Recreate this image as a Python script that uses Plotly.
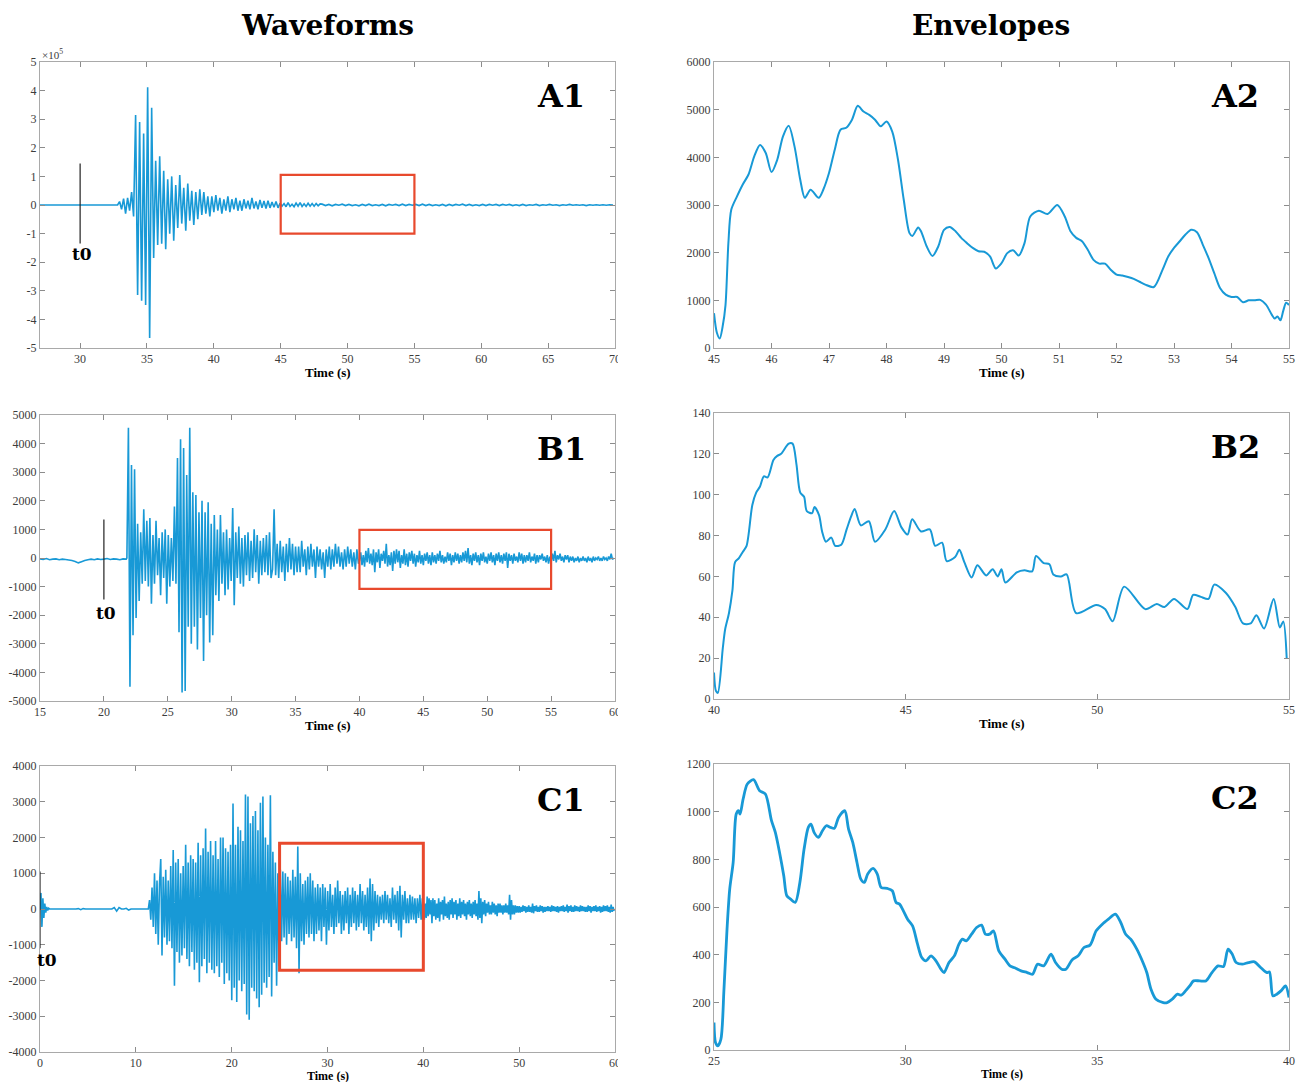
import numpy as np
import plotly.graph_objects as go

# ---------------------------------------------------------------------------
# Waveforms: each record is (start time, sample step, samples)
# ---------------------------------------------------------------------------
# A1 (amplitude in units of 1e5)
a1_quiet_start, a1_quiet_step = 27.0, 0.5
a1_quiet = [0, 0, 0, 0, 0, 0, 0, 0, 0, 0, 0, 0]
a1_main_start, a1_main_step = 32.8, 0.15
a1_main = [0.00, 0.12, -0.15, 0.22, -0.30, 0.25, -0.20, 0.45, -0.40, 3.15,
           -3.15, 2.90, -3.35, 2.50, -3.50, 4.12, -4.65, 3.40, -1.85, 1.55,
           -1.40, 1.70, -1.35, 1.20, -1.55, 0.90, -1.00, 1.00, -1.25, 0.70,
           -0.80, 1.05, -0.65, 0.60, -0.90, 0.75, -0.55, 0.50, -0.70, 0.45,
           -0.50, 0.55, -0.35, 0.45, -0.30, 0.30, -0.40, 0.30, -0.25, 0.35,
           -0.20, 0.25, -0.30, 0.20, -0.20, 0.30, -0.25, 0.20, -0.15, 0.25,
           -0.20, 0.15, -0.20, 0.20, -0.12, 0.15, -0.15, 0.25, -0.12, 0.12,
           -0.15, 0.18, -0.10, 0.14, -0.12, 0.15, -0.10, 0.10, -0.08, 0.12,
           -0.10, 0.06, -0.04, 0.05, -0.06, 0.08, -0.05, 0.03, -0.06, 0.07,
           -0.04, 0.08, -0.05, 0.04, -0.05, 0.06, -0.04, 0.05, -0.04, 0.05,
           -0.03, 0.04]
a1_tail_start, a1_tail_step = 48.1, 0.25
a1_tail = [0.03, -0.02, 0.02, -0.03, 0.02, -0.01, 0.03, -0.02, 0.02, -0.02,
           0.01, -0.03, 0.02, -0.02, 0.03, -0.02, 0.01, -0.02, 0.02, -0.03,
           0.02, -0.01, 0.02, -0.02, 0.03, -0.02, 0.02, -0.01, 0.02, -0.02,
           0.03, -0.02, 0.02, -0.02, 0.01, -0.02, 0.02, -0.03, 0.02, -0.02,
           0.02, -0.01, 0.03, -0.02, 0.02, -0.02, 0.01, -0.02, 0.02, -0.02,
           0.02, -0.01, 0.02, -0.02, 0.02, -0.01, 0.02, -0.02, 0.01, -0.02,
           0.02, -0.02, 0.01, -0.01, 0.02, -0.02, 0.01, -0.01, 0.02, -0.01,
           0.01, -0.02, 0.01, -0.01, 0.02, -0.01, 0.01, -0.01, 0.01, -0.02,
           0.01, -0.01, 0.01, -0.01, 0.01, -0.01, 0.01, 0.00]

# B1 (counts)
b1_pre_start, b1_pre_step = 15.0, 0.25
b1_pre = [-30, -50, -20, -60, -40, -30, -60, -40, -50, -70,
          -90, -120, -170, -130, -90, -60, -40, -60, -30, -50,
          -40, -20, -50, -30, -40, -60, -30, -40]
b1_main_start, b1_main_step = 21.8, 0.12
b1_main = [0, 4550, -4500, 3250, -2700, 3100, -2100, 1200, -1500, 900,
           -900, 1700, -800, 1300, -1000, 1400, -1600, 800, -900, 1300,
           -600, 700, -1300, 900, -700, 1000, -1600, 800, -1000, 700,
           -800, 1800, -900, 3500, -2600, 4150, -4700, 3850, -4650, 2900,
           -2400, 4550, -3000, 2300, -2400, 2200, -3200, 1600, -2100, 2000,
           -3600, 1600, -2000, 1950, -2950, 1200, -2700, 1500, -1300, 1000,
           -1500, 1500, -900, 900, -1300, 1000, -1100, 700, -800, 1750,
           -1650, 900, -700, 1100, -900, 700, -1000, 800, -600, 900,
           -800, 600, -700, 1000, -500, 800, -900, 600, -600, 700,
           -500, 800, -600, 900, -700, -400, 1700, -600, 500, -700,
           600, -500, 400, -800, 500, -500, 700, -400, 500, -600,
           400, -500, 400, -500, 600, -300, 300, -600, 400, -400,
           500, -300, 300, -700, 400, -300, 300, -400, 200, -700,
           300, -300, 400, -400, 300, -300, 500, -200, 400, -300,
           200, -400, 300, -300, 400, -200, 300, -300, 200, -400,
           300, -200]
b1_tail_start, b1_tail_step = 40.0, 0.1
b1_tail = [-100, 200, -250, 100, -300, 250, -150, 350, -200, 150,
           -250, 300, -500, 200, -150, 300, -350, 150, -100, 250,
           -200, 500, -300, 100, -250, 200, -450, 250, -200, 300,
           -150, 250, -350, 100, -200, 300, -250, 150, -300, 200,
           -100, 250, -200, 150, -300, 100, -150, 250, -200, 100,
           -250, 150, -100, 200, -200, 100, -250, 200, -150, 100,
           -200, 150, -100, 250, -150, 100, -200, 50, -150, 200,
           -100, 150, -250, 100, -150, 200, -100, 150, -200, 100,
           -150, 200, -100, 250, -150, 350, -200, 100, -250, 150,
           -100, 200, -150, 100, -250, 150, -100, 200, -150, 50,
           -200, 150, -100, 200, -150, 100, -250, 150, -100, 200,
           -150, 100, -200, 150, -100, 200, -350, 150, -100, 100,
           -200, 150, -100, 50, -150, 200, -100, 150, -200, 100,
           -150, 100, -100, 200, -150, 50, -100, 150, -200, 100,
           -150, 100, -50, 150, -100, 50, -150, 100, -200, 50,
           -150, 150, -100, 250, -150, 100, -50, 150, -100, 50,
           -150, 100, -50, 100, -150, 50, -100, 50, -150, 0,
           -100, 50, -150, 0, -100, 50, -100, 0, -150, 50,
           -100, 0, -150, 50, -100, 0, -50, 50, -100, 0,
           -100, 50, -50, 0, -100, 50, -50, 150, -50, 0]

# C1 (counts)
c1_onset_start, c1_onset_step = 0.0, 0.1
c1_onset = [0, 450, -500, 300, -250, 150, -100, 60, -40, 20, 0]
c1_quiet_start, c1_quiet_step = 1.25, 0.25
c1_quiet = [0, 0, 0, 0, 0, 0, 0, 0, 0, 0, 0, 10, -20, 10, 0, 0, 0, 0, 0, 0,
            0, 0, 0, 0, 0, 0, 40, -60, 40, 0, 0, 20, -30, 0, 0, 0, 0, 0, 0,
            0, 0]
c1_main_start, c1_main_step = 11.3, 0.13
c1_main = [0, 250, -300, 600, -500, 1000, -700, 800, -1000, 700,
           1400, -1300, 900, -800, 1100, -1000, 800, -900, 1200, -1100,
           1650, -2150, 1300, -1200, 1400, -1500, 1000, -1300, 1200, -1100,
           1800, -1400, 1300, -1600, 1500, -1200, 1400, -1700, 1300, -1500,
           1850, -2050, 1500, -1600, 1700, -1400, 2250, -1800, 1600, -1500,
           1900, -1700, 1500, -1800, 1900, -1600, 1400, -1900, 2000, -1500,
           2000, -2100, 1700, -1800, 1600, -2000, 1800, -2550, 2950, -2200,
           1800, -2600, 2300, -2000, 2200, -2300, 1900, -2100, 3200, -2950,
           3150, -3100, 2400, -2200, 2600, -2300, 2740, -2500, 2200, -2750,
           2970, -2400, 3150, -2060, 2000, -2200, 1800, -1900, 3180, -2450,
           1600, -1500, 1300, -2150, 1000, -1600, 1100, -900, 1050, -800,
           1000, -1000, 900, -700, 800, -900, 1100, -800, 900, -1100,
           1750, -1800, 1000, -900, 700, -1000, 800, -700, 900, -800,
           1000, -700, 800, -900, 600, -700, 700, -600, 600, -900,
           700, -500, 600, -1000, 500, -600, 700, -500, 400, -700,
           600, -500, 800, -400, 500, -700, 400, -600, 500, -400,
           600, -700, 400, -500, 600, -400, 500, -600, 400, -500,
           700, -400, 500, -600, 400, -500, 600, -700, 850, -900,
           700, -600, 500, -400, 400, -500, 350, -300, 400, -400,
           500, -300, 400, -400, 300, -500, 600, -300, 400, -400,
           500, -600, 650, -800, 400, -300, 500, -400, 300, -400,
           400, -300, 350, -300, 300, -400, 300, -250, 400, -300,
           300, -200]
c1_coda_start, c1_coda_step = 40.0, 0.1
c1_coda = [200, -300, 150, -250, 350, -200, 300, -150, 250, -400,
           300, -200, 250, -300, 150, -250, 300, -350, 200, -150,
           250, -300, 350, -200, 150, -250, 200, -300, 250, -150,
           300, -250, 200, -150, 250, -300, 150, -200, 300, -250,
           200, -150, 250, -200, 150, -300, 200, -150, 250, -200,
           150, -250, 200, -150, 250, -200, 150, -300, 500, -250,
           300, -400, 200, -150, 250, -200, 150, -100, 200, -150,
           100, -150, 200, -100, 150, -150, 100, -200, 150, -100,
           150, -100, 100, -150, 100, -100, 150, -100, 100, -150,
           400, -300, 250, -150, 100, -150, 100, -100, 80, -100,
           80, -100, 60, -80, 100, -60, 80, -100, 60, -80,
           100, -80, 60, -100, 150, -120, 80, -60, 100, -80,
           60, -80, 100, -60, 80, -100, 60, -80, 60, -60,
           80, -60, 60, -80, 100, -60, 80, -60, 60, -80,
           80, -100, 60, -60, 80, -60, 100, -80, 60, -60,
           120, -100, 80, -60, 100, -80, 60, -80, 100, -60,
           80, -60, 60, -80, 100, -60, 80, -60, 60, -80,
           60, -80, 100, -60, 80, -100, 60, -60, 80, -60,
           100, -80, 60, -60, 80, -100, 60, -80, 100, -60,
           80, -60, 100, -80, 60, -100, 120, -80, 60, -60]

# ---------------------------------------------------------------------------
# Envelopes (time in s, amplitude)
# ---------------------------------------------------------------------------
a2_t = [45.0, 45.05, 45.1, 45.15, 45.2, 45.25, 45.3, 45.4, 45.5, 45.6,
        45.7, 45.8, 45.9, 46.0, 46.1, 46.2, 46.3, 46.4, 46.5, 46.58,
        46.68, 46.82, 46.9, 47.0, 47.1, 47.2, 47.3, 47.4, 47.5, 47.6,
        47.7, 47.8, 47.9, 48.0, 48.1, 48.2, 48.3, 48.4, 48.45, 48.55,
        48.6, 48.7, 48.8, 48.9, 49.0, 49.1, 49.2, 49.3, 49.4, 49.5,
        49.6, 49.7, 49.8, 49.9, 50.0, 50.1, 50.2, 50.3, 50.4, 50.5,
        50.65, 50.8, 50.97, 51.1, 51.2, 51.3, 51.4, 51.5, 51.6, 51.7,
        51.8, 51.9, 52.0, 52.1, 52.2, 52.3, 52.4, 52.5, 52.65, 52.8,
        52.9, 53.0, 53.1, 53.2, 53.3, 53.4, 53.5, 53.6, 53.7, 53.8,
        53.9, 54.0, 54.1, 54.2, 54.3, 54.4, 54.5, 54.6, 54.7, 54.75,
        54.8, 54.85, 54.9, 54.95, 55.0]
a2_v = [730, 320, 200, 450, 900, 2200, 2900, 3180, 3430, 3640,
        4020, 4260, 4090, 3690, 3950, 4440, 4660, 4230, 3530, 3150,
        3320, 3150, 3320, 3670, 4160, 4580, 4620, 4790, 5080, 4960,
        4890, 4790, 4650, 4750, 4540, 3950, 3110, 2410, 2350, 2530,
        2450, 2130, 1930, 2130, 2480, 2540, 2450, 2310, 2200, 2100,
        2030, 2020, 1920, 1670, 1780, 1990, 2050, 1940, 2200, 2760,
        2880, 2810, 3000, 2760, 2450, 2310, 2240, 2060, 1850, 1770,
        1770, 1640, 1540, 1520, 1490, 1450, 1390, 1330, 1280, 1640,
        1920, 2100, 2240, 2380, 2480, 2430, 2170, 1890, 1570, 1260,
        1120, 1070, 1070, 960, 1000, 1000, 1010, 910, 700, 620,
        660, 580, 780, 950, 900]

b2_t = [40.0, 40.05, 40.1, 40.23, 40.29, 40.39, 40.48, 40.55, 40.65, 40.75,
        40.85, 41.0, 41.1, 41.2, 41.3, 41.4, 41.55, 41.65, 41.75, 41.95,
        42.05, 42.15, 42.25, 42.35, 42.42, 42.56, 42.62, 42.74, 42.82, 42.92,
        43.06, 43.16, 43.32, 43.46, 43.57, 43.67, 43.83, 44.04, 44.2, 44.47,
        44.7, 44.89, 45.05, 45.17, 45.4, 45.63, 45.77, 45.95, 46.07, 46.29,
        46.4, 46.53, 46.72, 46.87, 47.1, 47.27, 47.4, 47.5, 47.6, 47.9,
        48.1, 48.3, 48.4, 48.6, 48.75, 48.85, 49.05, 49.2, 49.45, 49.97,
        50.2, 50.4, 50.7, 51.25, 51.55, 51.75, 52.0, 52.35, 52.5, 52.7,
        52.9, 53.05, 53.35, 53.6, 53.8, 54.0, 54.15, 54.35, 54.6, 54.76,
        54.85, 54.94, 55.0]
b2_v = [13, 4, 3, 25, 34, 42, 53, 67, 69, 72,
        75, 95, 101, 104, 109, 108.5, 117, 119, 120, 125,
        125, 115, 101, 99, 92, 91, 94, 90, 82, 77,
        79, 75, 75.5, 83, 89, 93, 85, 87, 77, 83,
        92, 84, 80.5, 88, 82, 83, 75, 76.5, 67.5, 69.5,
        73, 67, 59.5, 65.5, 60.5, 63.5, 60, 63.5, 57, 62,
        63, 62.5, 70, 66.5, 66, 61, 60, 61, 42, 46,
        44, 38, 55, 44, 46.5, 45, 49, 44, 51, 50,
        49, 56, 52, 45, 37, 37, 41, 34.5, 49, 35,
        38, 20]

c2_t = [25.0, 25.04, 25.1, 25.18, 25.26, 25.34, 25.41, 25.5, 25.58, 25.64,
        25.68, 25.76, 25.87, 26.03, 26.19, 26.34, 26.5, 26.6, 26.71, 26.82,
        26.9, 27.0, 27.12, 27.24, 27.35, 27.46, 27.53, 27.61, 27.72, 27.83,
        27.93, 28.04, 28.14, 28.25, 28.41, 28.51, 28.62, 28.73, 28.83, 28.92,
        29.01, 29.15, 29.26, 29.36, 29.52, 29.65, 29.75, 29.84, 29.94, 30.05,
        30.18, 30.31, 30.42, 30.53, 30.66, 30.79, 30.92, 31.0, 31.13, 31.27,
        31.39, 31.48, 31.58, 31.72, 31.85, 31.98, 32.08, 32.19, 32.29, 32.43,
        32.59, 32.72, 32.86, 33.01, 33.17, 33.31, 33.44, 33.6, 33.79, 33.91,
        34.07, 34.18, 34.34, 34.5, 34.65, 34.81, 34.97, 35.13, 35.29, 35.47,
        35.61, 35.74, 35.87, 36.03, 36.19, 36.29, 36.4, 36.53, 36.72, 36.82,
        36.95, 37.09, 37.19, 37.3, 37.41, 37.51, 37.67, 37.83, 37.99, 38.15,
        38.29, 38.41, 38.52, 38.62, 38.78, 38.94, 39.1, 39.26, 39.42, 39.49,
        39.58, 39.68, 39.79, 39.91, 40.0]
c2_v = [115, 31, 17, 45, 255, 507, 675, 787, 990, 1004,
        990, 1053, 1116, 1134, 1088, 1074, 962, 913, 829, 731,
        647, 633, 619, 703, 843, 934, 948, 913, 892, 920,
        941, 934, 930, 976, 1004, 927, 871, 787, 717, 703,
        738, 762, 738, 682, 678, 668, 619, 612, 584, 549,
        521, 444, 388, 374, 395, 374, 339, 325, 367, 395,
        444, 465, 458, 486, 514, 524, 486, 486, 500, 416,
        381, 353, 344, 332, 325, 318, 360, 353, 402, 367,
        339, 339, 378, 395, 430, 440, 500, 528, 549, 570,
        535, 486, 465, 423, 367, 325, 255, 213, 199, 199,
        213, 234, 230, 248, 269, 290, 290, 290, 325, 353,
        350, 423, 402, 367, 360, 367, 370, 346, 325, 328,
        227, 234, 248, 269, 220]

# Axis extents and tick values
a1_xrange, a1_yrange = [27, 70], [-5, 5]
a1_xticks, a1_yticks = [30, 35, 40, 45, 50, 55, 60, 65, 70], list(range(-5, 6))
a2_xrange, a2_yrange = [45, 55], [0, 6000]
a2_xticks, a2_yticks = list(range(45, 56)), list(range(0, 6001, 1000))
b1_xrange, b1_yrange = [15, 60], [-5000, 5000]
b1_xticks, b1_yticks = list(range(15, 61, 5)), list(range(-5000, 5001, 1000))
b2_xrange, b2_yrange = [40, 55], [0, 140]
b2_xticks, b2_yticks = [40, 45, 50, 55], list(range(0, 141, 20))
c1_xrange, c1_yrange = [0, 60], [-4000, 4000]
c1_xticks, c1_yticks = list(range(0, 61, 10)), list(range(-4000, 4001, 1000))
c2_xrange, c2_yrange = [25, 40], [0, 1200]
c2_xticks, c2_yticks = [25, 30, 35, 40], list(range(0, 1201, 200))

# Analysis windows (time span, amplitude span) and origin-time markers
a1_window = ([45, 55], [-1.0, 1.05])
b1_window = ([40, 55], [-1080, 980])
c1_window = ([25, 40], [-1710, 1840])
a1_t0, b1_t0, c1_t0 = (30, [-1.35, 1.45]), (20, [-1450, 1350]), (0, [-1100, 1050])

# ---------------------------------------------------------------------------
W, H = 1296, 1082
BLUE = "#1899d6"
RED = "#e8492d"
FRAME = "#a9a9a9"


def px_x(x):
    return min(max(x / W, 0.0), 1.0)


def px_y(y):
    return min(max(1 - y / H, 0.0), 1.0)


def sampled(segments):
    t, v = [], []
    for start, step, vals in segments:
        t.extend((start + step * np.arange(len(vals))).tolist())
        v.extend(vals)
    return t, v


def label(text, x, y, family, size, xanchor="center", color="black"):
    return dict(text=text, x=px_x(x), y=px_y(y), xref="paper", yref="paper",
                xanchor=xanchor, yanchor="middle", showarrow=False,
                font=dict(family=family, size=size, color=color))


panels = {
    # name: (x pixel span, y pixel span)
    "A1": ((40, 615), (62, 348)),
    "A2": ((714, 1289), (62, 348)),
    "B1": ((40, 615), (415, 701)),
    "B2": ((714, 1289), (413, 699)),
    "C1": ((40, 615), (766, 1052)),
    "C2": ((714, 1289), (764, 1050)),
}

ranges = {
    "A1": (a1_xrange, a1_yrange, a1_xticks, a1_yticks),
    "A2": (a2_xrange, a2_yrange, a2_xticks, a2_yticks),
    "B1": (b1_xrange, b1_yrange, b1_xticks, b1_yticks),
    "B2": (b2_xrange, b2_yrange, b2_xticks, b2_yticks),
    "C1": (c1_xrange, c1_yrange, c1_xticks, c1_yticks),
    "C2": (c2_xrange, c2_yrange, c2_xticks, c2_yticks),
}

series = {
    "A1": sampled([(a1_quiet_start, a1_quiet_step, a1_quiet),
                   (a1_main_start, a1_main_step, a1_main),
                   (a1_tail_start, a1_tail_step, a1_tail)]),
    "A2": (a2_t, a2_v),
    "B1": sampled([(b1_pre_start, b1_pre_step, b1_pre),
                   (b1_main_start, b1_main_step, b1_main),
                   (b1_tail_start, b1_tail_step, b1_tail)]),
    "B2": (b2_t, b2_v),
    "C1": sampled([(c1_onset_start, c1_onset_step, c1_onset),
                   (c1_quiet_start, c1_quiet_step, c1_quiet),
                   (c1_main_start, c1_main_step, c1_main),
                   (c1_coda_start, c1_coda_step, c1_coda)]),
    "C2": (c2_t, c2_v),
}

fig = go.Figure()
layout_axes = {}
shapes = []
annotations = []

tick_font = dict(family="Liberation Serif", size=12, color="#3c3c3c")

for i, name in enumerate(["A1", "A2", "B1", "B2", "C1", "C2"]):
    idx = "" if i == 0 else str(i + 1)
    (x0, x1), (y0, y1) = panels[name]
    xr, yr, xt, yt = ranges[name]
    common = dict(showline=True, linecolor=FRAME, linewidth=1, mirror="allticks",
                  ticks="inside", ticklen=5, tickcolor="#8c8c8c", tickwidth=1,
                  showgrid=False, zeroline=False, tickfont=tick_font,
                  fixedrange=True, automargin=False)
    layout_axes["xaxis" + idx] = dict(domain=[px_x(x0), px_x(x1)], range=xr,
                                      anchor="y" + idx, tickvals=xt,
                                      ticktext=[str(v) for v in xt], **common)
    layout_axes["yaxis" + idx] = dict(domain=[px_y(y1), px_y(y0)], range=yr,
                                      anchor="x" + idx, tickvals=yt,
                                      ticktext=[str(v) for v in yt], **common)
    t, v = series[name]
    envelope = name.endswith("2")
    if envelope:
        line = dict(color=BLUE, width=2.8 if name == "C2" else 2.0,
                    shape="spline", smoothing=0.8, simplify=False)
    else:
        line = dict(color=BLUE, width=1.6, simplify=False)
    fig.add_trace(go.Scatter(x=t, y=v, mode="lines", xaxis="x" + idx,
                             yaxis="y" + idx, line=line, showlegend=False,
                             hoverinfo="skip"))

    # panel letter and x-axis title (bottom row sits closer to the page edge)
    annotations.append(label("<b>%s</b>" % name, x1 - 54, y0 + 34, "DejaVu Serif", 32))
    bottom_row = name.startswith("C")
    annotations.append(label("<b>Time (s)</b>", (x0 + x1) / 2,
                             y1 + (23.5 if bottom_row else 24),
                             "Liberation Serif", 12 if bottom_row else 13))

# windows and origin-time markers on the waveform panels
for idx, (wx, wy), (tx, ty), (lx, ly) in [
        ("", a1_window, a1_t0, (82, 254)),
        ("3", b1_window, b1_t0, (106, 613)),
        ("5", c1_window, c1_t0, (47, 960))]:
    shapes.append(dict(type="rect", xref="x" + idx, yref="y" + idx,
                       x0=wx[0], x1=wx[1], y0=wy[0], y1=wy[1],
                       line=dict(color=RED, width=3 if idx == "5" else 2.2)))
    shapes.append(dict(type="line", xref="x" + idx, yref="y" + idx,
                       x0=tx, x1=tx, y0=ty[0], y1=ty[1],
                       line=dict(color="#222222", width=1.2)))
    annotations.append(label("<b>t0</b>", lx, ly, "DejaVu Serif", 17))

# exponent label for the A1 amplitude axis
annotations.append(label("×10<sup>5</sup>", 40, 54, "Liberation Serif", 11,
                         xanchor="left", color="#3c3c3c"))

# column headings
for text, cx in [("Waveforms", 327), ("Envelopes", 991)]:
    annotations.append(label("<b>%s</b>" % text, cx, 26, "DejaVu Serif", 28))

# the waveform column is cut just past its right frame
for y0, y1 in [(350, 370), (703, 720), (1054, 1068)]:
    shapes.append(dict(type="rect", xref="paper", yref="paper", layer="above",
                       x0=px_x(618), x1=px_x(650), y0=px_y(y1), y1=px_y(y0),
                       fillcolor="white", line=dict(width=0)))

fig.update_layout(width=W, height=H, margin=dict(l=0, r=0, t=0, b=0, pad=0),
                  autosize=False, paper_bgcolor="white", plot_bgcolor="white",
                  shapes=shapes, annotations=annotations, **layout_axes)

fig.write_html("out.html", config={"displayModeBar": False})
